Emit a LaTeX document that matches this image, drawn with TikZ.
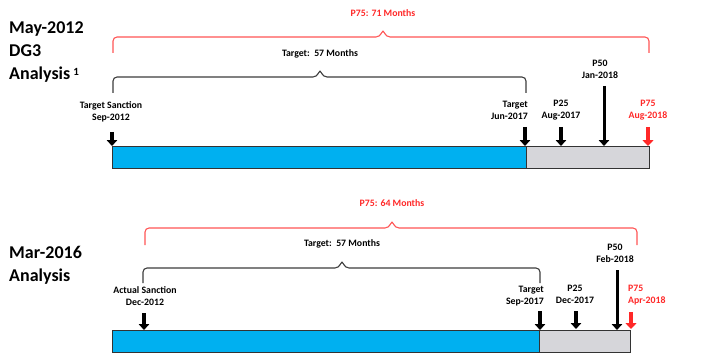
\documentclass[tikz,border=0pt]{standalone}
\usepackage{fontspec}
\setmainfont{Carlito}
\usepackage{xcolor}
\usepackage{tikz}
\usetikzlibrary{arrows.meta,positioning}

\definecolor{barblue}{RGB}{0,176,240}
\definecolor{bargrey}{RGB}{214,214,218}
\definecolor{p75red}{RGB}{255,40,40}
\definecolor{bracered}{RGB}{255,85,85}
\definecolor{braceblack}{RGB}{60,60,60}

\begin{document}
\begin{tikzpicture}[
    x=1pt, y=-1pt,
    title/.style={font=\fontsize{18}{23}\selectfont\bfseries, align=left, anchor=west, inner sep=0},
    lab/.style={font=\fontsize{9.8}{12}\selectfont\bfseries, align=center, inner sep=0},
    redlab/.style={lab, text=p75red},
    bluebar/.style={draw=black!80, line width=0.8pt, fill=barblue},
    greybar/.style={draw=black!80, line width=0.8pt, fill=bargrey},
    darr/.style={-{Triangle[width=10.5pt,length=6pt]}, line width=3.6pt},
    rarr/.style={darr, draw=p75red, -{Triangle[width=11pt,length=6pt,fill=p75red]}},
    tbrace/.style={line width=1.1pt, rounded corners=4pt, draw=braceblack},
    rbrace/.style={line width=1.1pt, rounded corners=4pt, draw=bracered}
]
\useasboundingbox (0,0) rectangle (713,353);

% Top: May-2012 DG3 analysis
\node[title] (title1) at (9,52) {May-2012\\DG3\\Analysis\,\raisebox{0.5ex}{\fontsize{11}{11}\selectfont 1}};

\draw[rbrace] (113,53) -- (113,37) -- (380,37) -- (383,29) -- (386,37) -- (649,37) -- (649,53);
\node[redlab] (p75top) at (383,13) {P75: 71 Months};
\draw[tbrace] (113,93) -- (113,77) -- (317,77) -- (320,69) -- (323,77) -- (526,77) -- (526,93);
\node[lab] (tgttop) at (320,54) {Target:\ \ 57 Months};

\node[bluebar, minimum width=414pt, minimum height=22pt, inner sep=0, anchor=north west] (blue1) at (112,146) {};
\node[greybar, minimum width=123pt, minimum height=22pt, inner sep=0, anchor=north west] (grey1) at (526,146) {};

\node[lab] (sanc1) at (111,111.5) {Target Sanction\\Sep-2012};
\node[lab, anchor=east, align=right] (tgt1) at (528,110) {Target\\Jun-2017};
\node[lab] (pa1) at (561,110) {P25\\Aug-2017};
\node[lab] (pb1) at (600,69) {P50\\Jan-2018};
\node[redlab] (pc1) at (648,110) {P75\\Aug-2018};

\coordinate (sanc1t) at (112,132);  \coordinate (sanc1h) at (112,146);
\coordinate (tgt1t) at (525,127);   \coordinate (tgt1h) at (525,146);
\coordinate (pa1t) at (561,127);    \coordinate (pa1h) at (561,146);
\coordinate (pb1t) at (604,86);     \coordinate (pb1h) at (604,146);
\coordinate (pc1t) at (648,127);    \coordinate (pc1h) at (648,146);
\draw[darr] (sanc1t) -- (sanc1h);
\draw[darr] (tgt1t) -- (tgt1h);
\draw[darr] (pa1t) -- (pa1h);
\draw[darr, line width=3pt] (pb1t) -- (pb1h);
\draw[rarr] (pc1t) -- (pc1h);

% Bottom: Mar-2016 analysis
\node[title] (title2) at (9,265) {Mar-2016\\Analysis};

\draw[rbrace] (145,245) -- (145,228) -- (389,228) -- (392,220) -- (395,228) -- (637,228) -- (637,245);
\node[redlab] (p75bot) at (392,203) {P75: 64 Months};
\draw[tbrace] (143,283) -- (143,268) -- (339,268) -- (342,260) -- (345,268) -- (540,268) -- (540,283);
\node[lab] (tgtbot) at (342,244) {Target:\ \ 57 Months};

\node[bluebar, minimum width=427pt, minimum height=22pt, inner sep=0, anchor=north west] (blue2) at (112,330) {};
\node[greybar, minimum width=91pt, minimum height=22pt, inner sep=0, anchor=north west] (grey2) at (539,330) {};

\node[lab] (sanc2) at (145,296) {Actual Sanction\\Dec-2012};
\node[lab, anchor=east, align=right] (tgt2) at (544,296) {Target\\Sep-2017};
\node[lab] (pa2) at (575,294) {P25\\Dec-2017};
\node[lab] (pb2) at (615,253) {P50\\Feb-2018};
\node[redlab, anchor=west, align=left] (pc2) at (628,295) {P75\\Apr-2018};

\coordinate (sanc2t) at (144,313);  \coordinate (sanc2h) at (144,330);
\coordinate (tgt2t) at (540,311);   \coordinate (tgt2h) at (540,330);
\coordinate (pa2t) at (576,311);    \coordinate (pa2h) at (576,329);
\coordinate (pb2t) at (617,270);    \coordinate (pb2h) at (617,330);
\coordinate (pc2t) at (631,312);    \coordinate (pc2h) at (631,329);
\draw[darr] (sanc2t) -- (sanc2h);
\draw[darr] (tgt2t) -- (tgt2h);
\draw[darr] (pa2t) -- (pa2h);
\draw[darr, line width=3pt] (pb2t) -- (pb2h);
\draw[rarr] (pc2t) -- (pc2h);

\end{tikzpicture}
\end{document}
